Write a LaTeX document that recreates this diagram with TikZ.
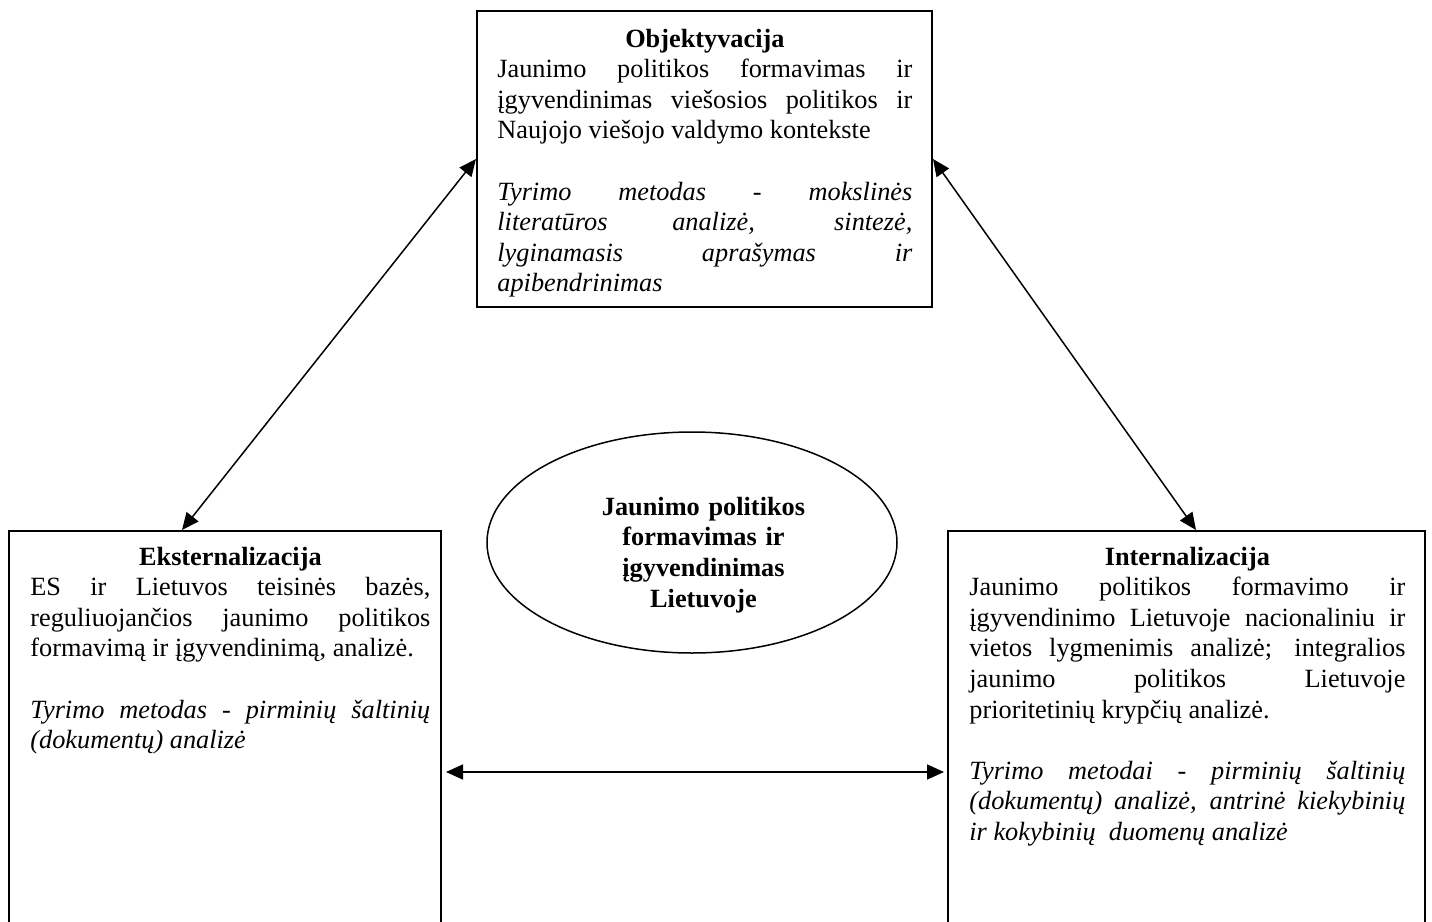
\documentclass[tikz,border=0pt]{standalone}
\usepackage{fontspec}
\setmainfont{Liberation Serif}
\usetikzlibrary{arrows.meta,shapes.geometric}
\newcommand{\jline}[1]{\leavevmode\hbox to\linewidth{#1}\par}
\newcommand{\lline}[1]{\leavevmode\hbox to\linewidth{#1\hfil}\par}
\newcommand{\ctrline}[1]{\leavevmode\hbox to\linewidth{\hfil\bfseries #1\hfil}\par}
\newcommand{\blankline}{\mbox{}\par}
\newcommand{\freespaces}{\spaceskip=0pt\relax\xspaceskip=0pt\relax}
\begin{document}
\begin{tikzpicture}[x=0.5pt,y=-0.5pt,
  box/.style={draw, line width=1pt, rectangle, inner sep=0pt},
  oval/.style={draw, line width=0.75pt, ellipse, inner sep=0pt},
  txt/.style={anchor=base west, inner sep=0pt, align=justify, font=\fontsize{13.15pt}{15.3pt}\selectfont},
  ctxt/.style={anchor=base, inner sep=0pt, align=center, font=\fontsize{13.15pt}{15.35pt}\selectfont\bfseries},
  arr/.style={line width=0.75pt, {Triangle[length=8.5pt,width=7.5pt]}-{Triangle[length=8.5pt,width=7.5pt]}}
]
\useasboundingbox (0,0) rectangle (1432,922);
\fill[white] (0,0) rectangle (1432,922);
\clip (0,0) rectangle (1432,922);

% boxes
\node[box, minimum width=227.5pt, minimum height=148pt] (obj) at (704.5,159) {};
\node[box, minimum width=216pt, minimum height=241pt] (lbox) at (225,772) {};
\node[box, minimum width=238.5pt, minimum height=241pt] (rbox) at (1186.5,772) {};
\node[oval, minimum width=205pt, minimum height=110.5pt] (core) at (692,542.5) {};

% texts
\node[txt, text width=207.5pt] (objtext) at (497,47) {\freespaces
\ctrline{Objektyvacija}
\jline{Jaunimo politikos formavimas ir}
\jline{įgyvendinimas viešosios politikos ir}
\lline{Naujojo viešojo valdymo kontekste}
\blankline
\itshape
\jline{Tyrimo metodas - mokslinės}
\jline{literatūros analizė, sintezė,}
\jline{lyginamasis aprašymas ir}
\lline{apibendrinimas}};

\node[txt, text width=200pt] (ltext) at (30,565) {\freespaces
\ctrline{Eksternalizacija}
\jline{ES ir Lietuvos teisinės bazės,}
\jline{reguliuojančios jaunimo politikos}
\lline{formavimą ir įgyvendinimą, analizė.}
\blankline
\itshape
\jline{Tyrimo metodas - pirminių šaltinių}
\lline{(dokumentų) analizė}};

\node[txt, text width=218pt] (rtext) at (969,565) {\freespaces
\ctrline{Internalizacija}
\jline{Jaunimo politikos formavimo ir}
\jline{įgyvendinimo Lietuvoje nacionaliniu ir}
\jline{vietos lygmenimis analizė; integralios}
\jline{jaunimo politikos Lietuvoje}
\lline{prioritetinių krypčių analizė.}
\blankline
\itshape
\jline{Tyrimo metodai - pirminių šaltinių}
\jline{(dokumentų) analizė, antrinė kiekybinių}
\lline{ir kokybinių\ \ duomenų analizė}};

\node[ctxt, text width=130pt] (coretext) at (703.5,515) {Jaunimo politikos\\formavimas ir\\įgyvendinimas\\Lietuvoje};

% connectors
\draw[arr] (obj.west) -- ([xshift=87pt]lbox.north west);
\draw[arr] (obj.east) -- ([xshift=124.5pt]rbox.north west);
\draw[arr] ([xshift=2pt]lbox.east) -- ([xshift=-1.5pt]rbox.west);
\end{tikzpicture}
\end{document}
